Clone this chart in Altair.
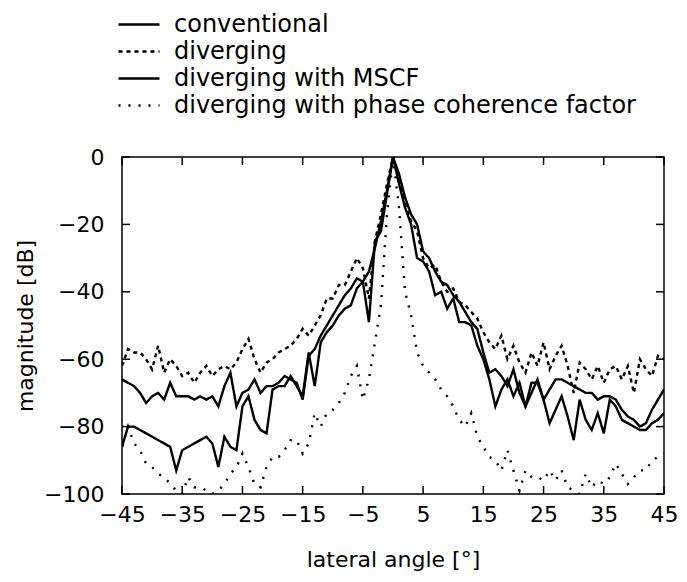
import altair as alt
import pandas as pd

angles = list(range(-45, 46))

conventional = [
    -66, -67, -68, -70, -73, -71, -70, -72, -67, -71,
    -71, -71, -72, -71, -72, -71, -74, -68, -64, -74,
    -70, -69, -66, -70, -68, -68, -67, -65, -66, -67,
    -72, -59, -57, -53, -50, -47, -44, -41, -39, -36,
    -37, -34, -27, -19, -10, 0, -5, -12, -17, -20,
    -28, -30, -34, -37, -38, -41, -43, -46, -49, -51,
    -58, -64, -63, -65, -68, -63, -70, -74, -67, -67,
    -72, -69, -66, -66, -67, -68, -69, -70, -70, -72,
    -71, -71, -72, -75, -77, -78, -80, -79, -75, -72,
    -69,
]

diverging = [
    -62, -57, -58, -58, -60, -63, -56, -64, -60, -62,
    -65, -64, -67, -64, -62, -65, -63, -62, -63, -61,
    -57, -54, -60, -64, -61, -60, -58, -57, -56, -54,
    -51, -53, -50, -47, -42, -42, -38, -38, -34, -30,
    -33, -42, -25, -17, -8, 0, -6, -14, -19, -22,
    -30, -33, -32, -37, -40, -39, -43, -44, -46, -48,
    -52, -55, -57, -53, -60, -56, -61, -64, -58, -62,
    -55, -63, -59, -56, -62, -70, -61, -63, -66, -62,
    -67, -63, -62, -66, -62, -70, -60, -63, -65, -59,
    -60,
]

mscf = [
    -86, -80, -80, -81, -82, -83, -84, -85, -86, -93,
    -87, -86, -85, -84, -83, -85, -92, -83, -86, -87,
    -74, -71, -78, -81, -82, -69, -68, -68, -65, -68,
    -71, -58, -68, -55, -52, -50, -47, -45, -44, -39,
    -37, -49, -25, -22, -11, 0, -8, -15, -20, -30,
    -31, -34, -41, -40, -45, -42, -49, -49, -50, -56,
    -60, -66, -74, -69, -66, -71, -67, -74, -70, -66,
    -72, -79, -75, -71, -77, -84, -72, -78, -81, -76,
    -82, -72, -74, -78, -79, -80, -81, -81, -79, -78,
    -76,
]

pcf = [
    -86, -80, -85, -87, -91, -92, -94, -95, -97, -99,
    -100, -95, -98, -98, -99, -100, -99, -97, -94, -92,
    -88, -92, -97, -98, -92, -89, -89, -87, -84, -84,
    -88, -85, -76, -80, -76, -75, -73, -70, -65, -62,
    -72, -66, -55, -44, -17, 0, -15, -40, -47, -58,
    -62, -64, -66, -69, -71, -74, -78, -80, -76, -83,
    -86, -89, -90, -93, -87, -93, -99, -93, -95, -95,
    -96, -93, -96, -93, -98, -99, -100, -94, -98, -96,
    -97, -95, -91, -94, -97, -95, -93, -93, -90, -89,
    -88,
]

series_names = [
    "conventional",
    "diverging",
    "diverging with MSCF",
    "diverging with phase coherence factor",
]
x_ticks = [-45, -35, -25, -15, -5, 5, 15, 25, 35, 45]
y_ticks = [0, -20, -40, -60, -80, -100]

rows = []
for name, vals in zip(series_names, [conventional, diverging, mscf, pcf]):
    for a, v in zip(angles, vals):
        rows.append({"angle": a, "dB": v, "series": name})
df = pd.DataFrame(rows)

W, H = 542, 337
FONT = "DejaVu Sans"
TL = 8  # inward tick length in px

xscale = alt.Scale(domain=[-45, 45], nice=False, zero=False)
yscale = alt.Scale(domain=[-100, 0], nice=False, zero=False)
x_axis = alt.Axis(values=x_ticks, title="lateral angle [°]", labelPadding=10,
                  titlePadding=24, labelFlush=False, ticks=False, tickSize=0,
                  domain=False, grid=False)
y_axis = alt.Axis(values=y_ticks, title="magnitude [dB]", labelPadding=18,
                  titlePadding=6, labelFlush=False, ticks=False, tickSize=0,
                  domain=False, grid=False)

lines = alt.Chart(df).mark_line(strokeWidth=2.4, clip=True, color="black").encode(
    x=alt.X("angle:Q", scale=xscale, axis=x_axis),
    y=alt.Y("dB:Q", scale=yscale, axis=y_axis),
    strokeDash=alt.StrokeDash(
        "series:N",
        sort=series_names,
        scale=alt.Scale(domain=series_names, range=[[1, 0], [4, 4], [1, 0], [2, 8]]),
        legend=alt.Legend(
            title=None, orient="none", legendX=-5, legendY=-145,
            symbolType="stroke", symbolSize=1681, symbolStrokeWidth=2.4,
            symbolStrokeColor="black", labelFont=FONT, labelFontSize=24,
            labelColor="black", labelOffset=13, clipHeight=25, rowPadding=2,
            padding=0, labelLimit=700,
        ),
    ),
)

xt = pd.DataFrame({"angle": x_ticks})
yt = pd.DataFrame({"dB": y_ticks})

bottom_ticks = alt.Chart(xt).mark_rule(color="black", strokeWidth=1.5).encode(
    x=alt.X("angle:Q", scale=xscale, axis=x_axis), y=alt.value(H), y2=alt.value(H - TL))
top_ticks = alt.Chart(xt).mark_rule(color="black", strokeWidth=1.5).encode(
    x=alt.X("angle:Q", scale=xscale, axis=x_axis), y=alt.value(0), y2=alt.value(TL))
left_ticks = alt.Chart(yt).mark_rule(color="black", strokeWidth=1.5).encode(
    y=alt.Y("dB:Q", scale=yscale, axis=y_axis), x=alt.value(0), x2=alt.value(TL))
right_ticks = alt.Chart(yt).mark_rule(color="black", strokeWidth=1.5).encode(
    y=alt.Y("dB:Q", scale=yscale, axis=y_axis), x=alt.value(W), x2=alt.value(W - TL))

chart = alt.layer(lines, bottom_ticks, top_ticks, left_ticks, right_ticks).properties(
    width=W, height=H,
    autosize=alt.AutoSizeParams(type="none"),
    padding={"left": 114, "top": 149, "right": 15, "bottom": 80},
).configure(
    font=FONT, background="white"
).configure_view(
    stroke="black", strokeWidth=1.5
).configure_axis(
    labelFont=FONT, labelFontSize=22, labelColor="black",
    titleFont=FONT, titleFontSize=22, titleFontWeight="normal", titleColor="black",
    ticks=False, tickSize=0, domain=False, grid=False,
)

chart.save("out.html", embed_options={"renderer": "svg", "actions": False})
